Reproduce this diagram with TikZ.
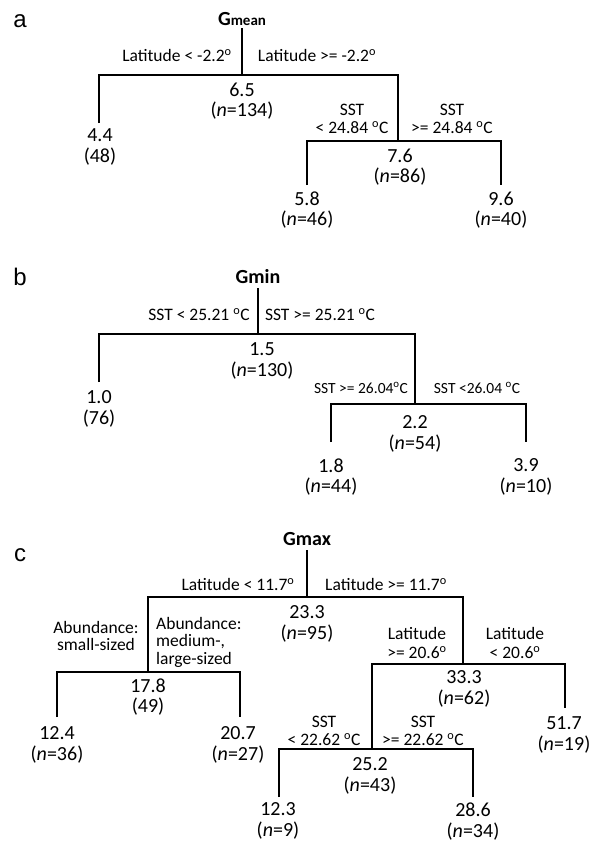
\documentclass[tikz,border=0pt]{standalone}
\usepackage{fontspec}
\setmainfont{Carlito}
\newfontfamily\panelfont{Liberation Sans}
\newcommand\dg{\textsuperscript{o}}
\begin{document}
\begin{tikzpicture}[x=1pt,y=-1pt,
  br/.style={line width=1.8pt, line join=miter},
  val/.style={font=\fontsize{20}{20.5}\selectfont, align=center, anchor=north, inner sep=0pt, outer sep=0pt},
  lbl/.style={font=\fontsize{17.5}{18}\selectfont, align=center, anchor=base, inner sep=0pt},
  lblsm/.style={font=\fontsize{15.5}{16}\selectfont, align=center, anchor=base, inner sep=0pt},
  lbltwo/.style={font=\fontsize{17.5}{18}\selectfont, align=center, anchor=north, inner sep=0pt},
  ttl/.style={font=\bfseries\fontsize{20}{20}\selectfont, anchor=base, inner sep=0pt},
  pnl/.style={font=\panelfont\fontsize{24}{24}\selectfont, anchor=base, inner sep=0pt}]
\useasboundingbox[fill=white] (0,0) rectangle (596,841);

% ---------------- panel a ----------------
\node[pnl] (aP) at (20,27) {a};
\node[ttl] (aT) at (242,25) {G{\fontsize{15}{15}\selectfont mean}};
\coordinate (aR0) at (242,28);
\coordinate (aS) at (242,75);
\coordinate (aBL) at (99,75);
\coordinate (aBR) at (398,75);
\coordinate (aLe) at (99,123);
\coordinate (aS2) at (398,141);
\coordinate (aCL) at (307,141);
\coordinate (aCR) at (501,141);
\coordinate (aCLe) at (307,185);
\coordinate (aCRe) at (501,185);
\draw[br] (aR0) -- (aS);
\draw[br] (aLe) -- (aBL) -- (aBR) -- (aS2);
\draw[br] (aCLe) -- (aCL) -- (aCR) -- (aCRe);
\node[lbl] (aL1) at (177,61.5) {Latitude < -2.2\dg};
\node[lbl] (aL2) at (317,61.5) {Latitude >= -2.2\dg};
\node[val] (aV0) at (242,82.7) {6.5\\(\textit{n}=134)};
\node[val] (aV1) at (100,128.7) {4.4\\(48)};
\node[lbltwo] (aL3) at (352,104.4) {SST\\< 24.84 \dg C};
\node[lbltwo] (aL4) at (452,104.4) {SST\\>= 24.84 \dg C};
\node[val] (aV2) at (400,148.7) {7.6\\(\textit{n}=86)};
\node[val] (aV3) at (307,191.7) {5.8\\(\textit{n}=46)};
\node[val] (aV4) at (501,191.7) {9.6\\(\textit{n}=40)};

% ---------------- panel b ----------------
\node[pnl] (bP) at (20,285) {b};
\node[ttl] (bT) at (258,283) {Gmin};
\coordinate (bR0) at (258,288);
\coordinate (bS) at (258,334);
\coordinate (bBL) at (99,334);
\coordinate (bBR) at (415,334);
\coordinate (bLe) at (99,382);
\coordinate (bS2) at (415,404);
\coordinate (bCL) at (331,404);
\coordinate (bCR) at (526,404);
\coordinate (bCLe) at (331,442);
\coordinate (bCRe) at (526,442);
\draw[br] (bR0) -- (bS);
\draw[br] (bLe) -- (bBL) -- (bBR) -- (bS2);
\draw[br] (bCLe) -- (bCL) -- (bCR) -- (bCRe);
\node[lbl] (bL1) at (199,320.6) {SST < 25.21 \dg C};
\node[lbl] (bL2) at (320,320.6) {SST >= 25.21 \dg C};
\node[val] (bV0) at (262,342.7) {1.5\\(\textit{n}=130)};
\node[val] (bV1) at (99,390.7) {1.0\\(76)};
\node[lblsm] (bL3) at (361,393) {SST >= 26.04\dg C};
\node[lblsm] (bL4) at (477,393) {SST <26.04 \dg C};
\node[val] (bV2) at (415,415.7) {2.2\\(\textit{n}=54)};
\node[val] (bV3) at (331,458.7) {1.8\\(\textit{n}=44)};
\node[val] (bV4) at (526,458.7) {3.9\\(\textit{n}=10)};

% ---------------- panel c ----------------
\node[pnl] (cP) at (20,561) {c};
\node[ttl] (cT) at (307,545) {Gmax};
\coordinate (cR0) at (307,550);
\coordinate (cS) at (307,597);
\coordinate (cBL) at (148,597);
\coordinate (cBR) at (463,597);
\coordinate (cLS) at (148,672);
\coordinate (cDL) at (57,672);
\coordinate (cDR) at (240,672);
\coordinate (cDLe) at (57,717);
\coordinate (cDRe) at (240,717);
\coordinate (cS2) at (463,664);
\coordinate (cEL) at (372,664);
\coordinate (cER) at (565,664);
\coordinate (cERe) at (565,708);
\coordinate (cS3) at (372,749);
\coordinate (cFL) at (279,749);
\coordinate (cFR) at (473,749);
\coordinate (cFLe) at (279,797);
\coordinate (cFRe) at (473,797);
\draw[br] (cR0) -- (cS);
\draw[br] (cLS) -- (cBL) -- (cBR) -- (cS2);
\draw[br] (cDLe) -- (cDL) -- (cDR) -- (cDRe);
\draw[br] (cS3) -- (cEL) -- (cER) -- (cERe);
\draw[br] (cFLe) -- (cFL) -- (cFR) -- (cFRe);
\node[lbl] (cL1) at (238,590.6) {Latitude < 11.7\dg};
\node[lbl] (cL2) at (386,590.6) {Latitude >= 11.7\dg};
\node[val] (cV0) at (307,605.7) {23.3\\(\textit{n}=95)};
\node[lbltwo, font=\fontsize{17.5}{17.5}\selectfont] (cL3) at (96,621) {Abundance:\\small-sized};
\node[lbltwo, font=\fontsize{17.5}{17.5}\selectfont, align=left, anchor=north west] (cL4) at (156,617) {Abundance:\\medium-,\\large-sized};
\node[val] (cV1) at (148,678.7) {17.8\\(49)};
\node[val] (cV2) at (57,726.7) {12.4\\(\textit{n}=36)};
\node[val] (cV3) at (238,726.7) {20.7\\(\textit{n}=27)};
\node[lbltwo, font=\fontsize{17.5}{18.5}\selectfont] (cL5) at (417,627.5) {Latitude\\>= 20.6\dg};
\node[lbltwo, font=\fontsize{17.5}{18.5}\selectfont] (cL6) at (515,627.5) {Latitude\\< 20.6\dg};
\node[val] (cV4) at (464,670.7) {33.3\\(\textit{n}=62)};
\node[val] (cV5) at (564,716.7) {51.7\\(\textit{n}=19)};
\node[lbltwo] (cL7) at (324,716.4) {SST\\< 22.62 \dg C};
\node[lbltwo] (cL8) at (423,716.4) {SST\\>= 22.62 \dg C};
\node[val] (cV6) at (370,757.7) {25.2\\(\textit{n}=43)};
\node[val] (cV7) at (278,803) {12.3\\(\textit{n}=9)};
\node[val] (cV8) at (473,803) {28.6\\(\textit{n}=34)};
\end{tikzpicture}
\end{document}
